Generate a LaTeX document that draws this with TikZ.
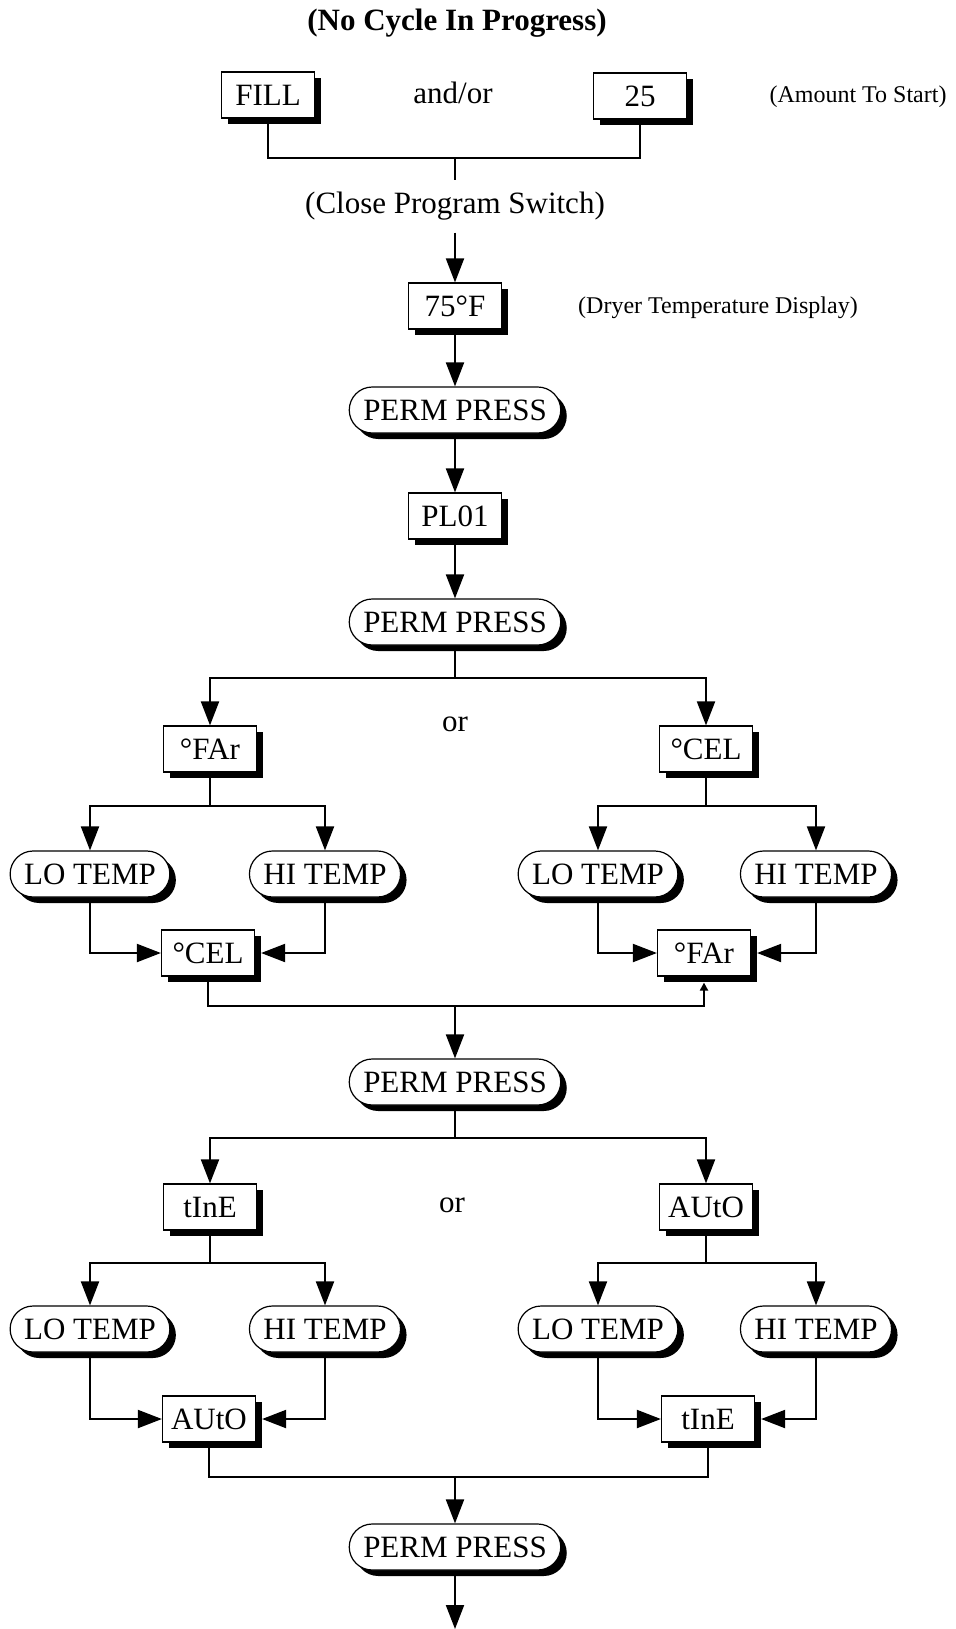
\documentclass[tikz,border=0pt]{standalone}
\usepackage{fontspec}
\setmainfont{Liberation Serif}
\usetikzlibrary{arrows.meta,shadows}

\begin{document}
\begin{tikzpicture}[x=0.5pt, y=-0.5pt,
  every node/.style={font=\fontsize{15.5}{18}\selectfont},
  boxshadow/.style={drop shadow={shadow xshift=3pt, shadow yshift=-3pt, fill=black, opacity=1}},
  display/.style={draw, fill=white, line width=0.6pt, minimum width=46.5pt, minimum height=23pt, inner sep=2pt, boxshadow},
  button/.style={draw, fill=white, line width=0.6pt, rounded corners=11.5pt, minimum height=23pt, inner xsep=7pt, boxshadow},
  note/.style={font=\fontsize{12}{14}\selectfont},
  link/.style={line width=1pt},
  arr/.style={link, -{Triangle[length=12pt, width=9pt]}},
  tinyarr/.style={link, -{Triangle[length=4pt, width=4pt]}}]
\useasboundingbox (0,0) rectangle (955,1629);

% Heading and the start keys
\node (title) at (457, 23) {\textbf{(No Cycle In Progress)}};
\node[display] (fill) at (268, 95) {FILL};
\node (andor) at (453, 93) {and/or};
\node[display] (n25) at (640, 96) {25};
\node[note] (amount) at (858, 97) {(Amount To Start)};
\node[inner ysep=6pt] (close) at (455, 206) {(Close Program Switch)};
\node[display] (temp75) at (455, 306) {75°F};
\node[note] (dryer) at (718, 308) {(Dryer Temperature Display)};
\node[button] (perm1) at (455, 410) {PERM PRESS};
\node[display] (pl01) at (455, 516) {PL01};
\node[button] (perm2) at (455, 622) {PERM PRESS};

% Temperature scale
\node (or1) at (455, 724) {or};
\node[display] (far1) at (210, 749) {°FAr};
\node[display] (cel1) at (706, 749) {°CEL};
\node[button] (lo1) at (90, 874) {LO TEMP};
\node[button] (hi1) at (325, 874) {HI TEMP};
\node[button] (lo2) at (598, 874) {LO TEMP};
\node[button] (hi2) at (816, 874) {HI TEMP};
\node[display] (cel2) at (208, 953) {°CEL};
\node[display] (far2) at (704, 953) {°FAr};
\node[button] (perm3) at (455, 1082) {PERM PRESS};

% Time or auto dry
\node (or2) at (452, 1205) {or};
\node[display] (tine1) at (210, 1207) {tInE};
\node[display] (auto1) at (706, 1207) {AUtO};
\node[button] (lo3) at (90, 1329) {LO TEMP};
\node[button] (hi3) at (325, 1329) {HI TEMP};
\node[button] (lo4) at (598, 1329) {LO TEMP};
\node[button] (hi4) at (816, 1329) {HI TEMP};
\node[display] (auto2) at (209, 1419) {AUtO};
\node[display] (tine2) at (708, 1419) {tInE};
\node[button] (perm4) at (455, 1547) {PERM PRESS};

\coordinate (j1) at (455, 158);
\coordinate (s1) at (455, 678);
\coordinate (s2a) at (210, 806);
\coordinate (s2b) at (706, 806);
\coordinate (j2) at (455, 1006);
\coordinate (j2b) at (704, 1006);
\coordinate (s3) at (455, 1138);
\coordinate (s4a) at (210, 1263);
\coordinate (s4b) at (706, 1263);
\coordinate (j3) at (455, 1477);
\coordinate (j3b) at (708, 1477);
\coordinate (stop) at (455, 1629);

% Connectors
\draw[link] (fill.south) |- (j1) -| (n25.south);
\draw[link] (j1) -- (close.north);
\draw[arr] (close.south) -- (temp75.north);
\draw[arr] (temp75.south) -- (perm1.north);
\draw[arr] (perm1.south) -- (pl01.north);
\draw[arr] (pl01.south) -- (perm2.north);
\draw[arr] (perm2.south) -- (s1) -| (far1.north);
\draw[arr] (s1) -| (cel1.north);
\draw[arr] (far1.south) -- (s2a) -| (lo1.north);
\draw[arr] (s2a) -| (hi1.north);
\draw[arr] (cel1.south) -- (s2b) -| (lo2.north);
\draw[arr] (s2b) -| (hi2.north);
\draw[arr] (lo1.south) |- (cel2.west);
\draw[arr] (hi1.south) |- ([xshift=3pt]cel2.east);
\draw[arr] (lo2.south) |- (far2.west);
\draw[arr] (hi2.south) |- ([xshift=3pt]far2.east);
\draw[tinyarr] (cel2.south) |- (j2b) -- ([yshift=-3pt]far2.south);
\draw[arr] (j2) -- (perm3.north);
\draw[arr] (perm3.south) -- (s3) -| (tine1.north);
\draw[arr] (s3) -| (auto1.north);
\draw[arr] (tine1.south) -- (s4a) -| (lo3.north);
\draw[arr] (s4a) -| (hi3.north);
\draw[arr] (auto1.south) -- (s4b) -| (lo4.north);
\draw[arr] (s4b) -| (hi4.north);
\draw[arr] (lo3.south) |- (auto2.west);
\draw[arr] (hi3.south) |- ([xshift=3pt]auto2.east);
\draw[arr] (lo4.south) |- (tine2.west);
\draw[arr] (hi4.south) |- ([xshift=3pt]tine2.east);
\draw[link] (auto2.south) |- (j3b) -- (tine2.south);
\draw[arr] (j3) -- (perm4.north);
\draw[arr] (perm4.south) -- (stop);
\end{tikzpicture}
\end{document}
